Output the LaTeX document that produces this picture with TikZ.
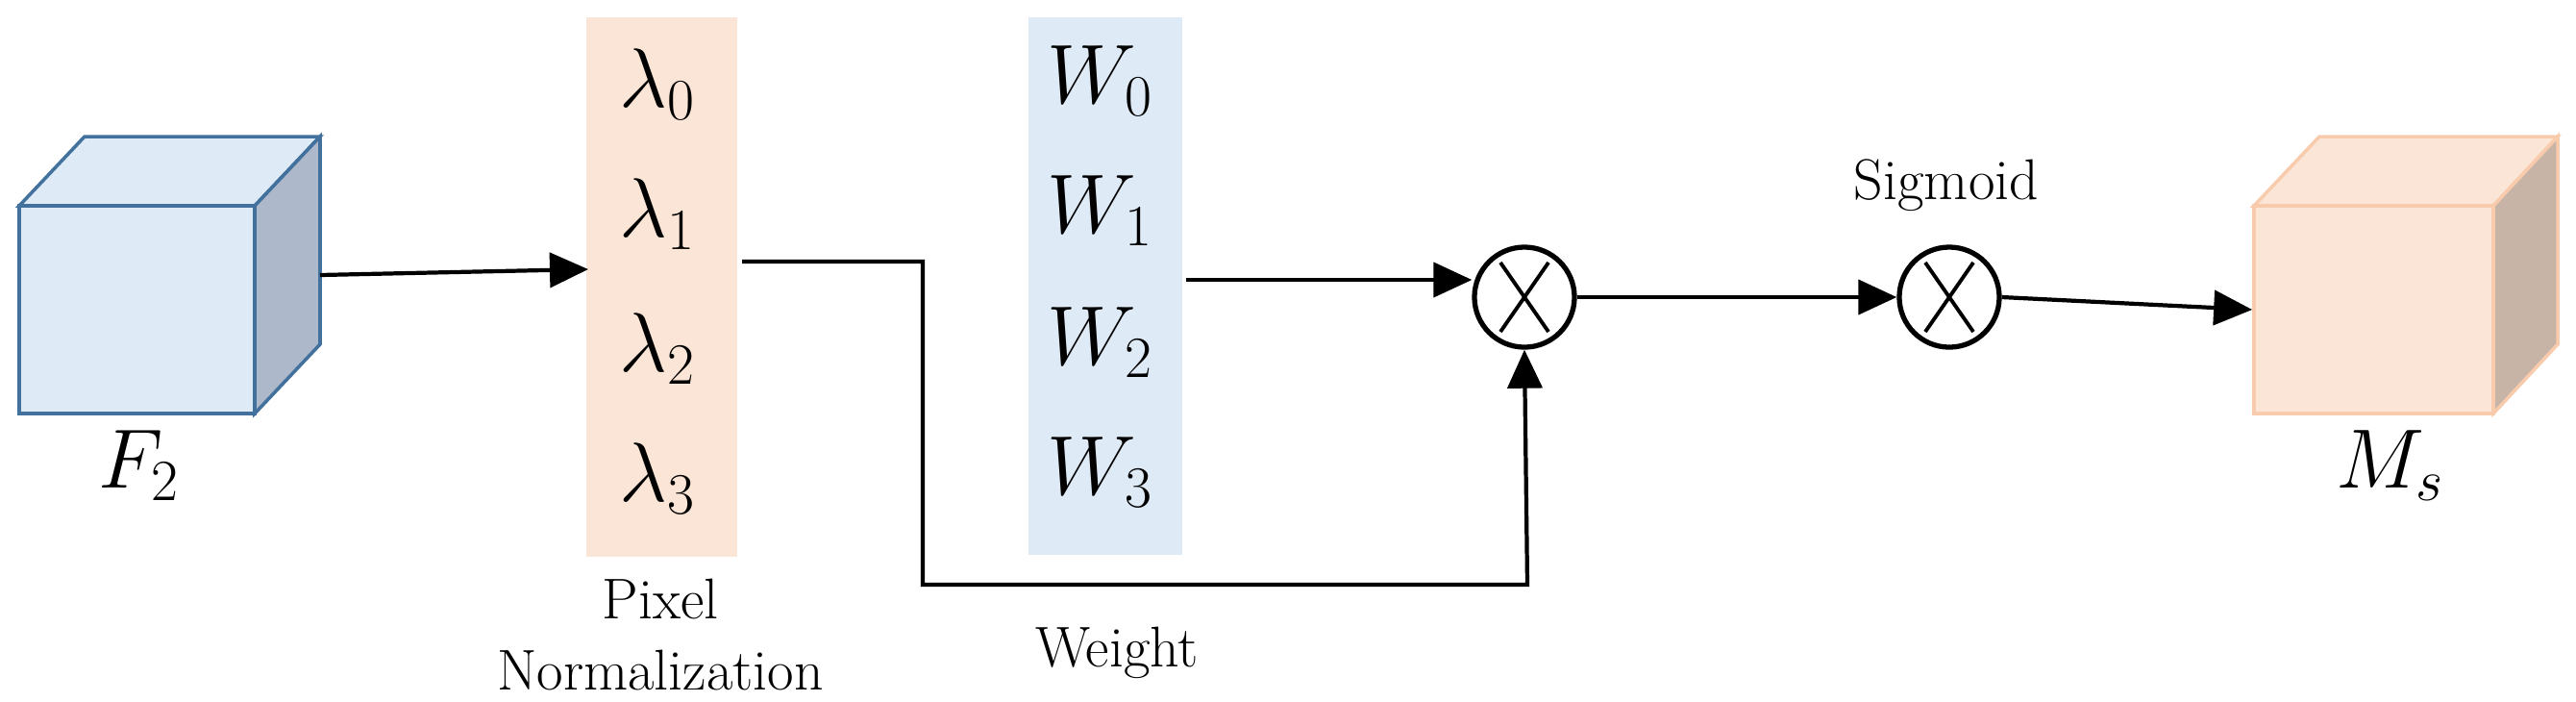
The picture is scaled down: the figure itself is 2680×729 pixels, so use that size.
\documentclass[tikz,border=0pt]{standalone}
\usetikzlibrary{arrows.meta}
\definecolor{bfill}{RGB}{222,234,246}
\definecolor{bside}{RGB}{173,185,202}
\definecolor{bedge}{RGB}{65,113,156}
\definecolor{pfill}{RGB}{251,229,214}
\definecolor{pside}{RGB}{199,180,166}
\definecolor{pedge}{RGB}{248,203,173}
\begin{document}
\begin{tikzpicture}[x=0.01cm,y=-0.01cm,
  conn/.style={line width=1.2pt,-{Triangle[length=0.4cm,width=0.36cm]}},
  sym/.style={font=\fontsize{25}{28}\selectfont},
  lbl/.style={font=\fontsize{17}{21}\selectfont},
  otimes/.style={circle,draw,line width=1.5pt,minimum size=1.04cm,inner sep=0pt,
    path picture={\draw[line width=1.1pt] (path picture bounding box.center) ++(-0.25cm,-0.36cm) -- ++(0.5cm,0.72cm)
      (path picture bounding box.center) ++(0.25cm,-0.36cm) -- ++(-0.5cm,0.72cm);}}]
\useasboundingbox (0,0) rectangle (2680,729);
% left cube
\fill[bfill,draw=bedge,line width=1pt] (20,214) -- (88,142) -- (333,142) -- (265,214) -- cycle;
\fill[bside,draw=bedge,line width=1pt] (265,214) -- (333,142) -- (333,358) -- (265,430) -- cycle;
\node[fill=bfill,draw=bedge,line width=1pt,minimum width=2.45cm,minimum height=2.16cm,inner sep=0pt] (f2) at (142.5,322) {};
\coordinate (f2out) at (333,286);
% right cube
\fill[pfill,draw=pedge,line width=1pt] (2345,214) -- (2413,142) -- (2661,142) -- (2594,214) -- cycle;
\fill[pside,draw=pedge,line width=1pt] (2594,214) -- (2661,142) -- (2661,358) -- (2594,430) -- cycle;
\node[fill=pfill,draw=pedge,line width=1pt,minimum width=2.49cm,minimum height=2.16cm,inner sep=0pt] (ms) at (2469.5,322) {};
% columns
\node[fill=pfill,minimum width=1.57cm,minimum height=5.61cm,inner sep=0pt] (pn) at (688.5,298.5) {};
\node[fill=bfill,minimum width=1.6cm,minimum height=5.59cm,inner sep=0pt] (wc) at (1150,297.5) {};
\node[sym] (l0) at (684,88) {$\lambda_0$};
\node[sym] (l1) at (684,223) {$\lambda_1$};
\node[sym] (l2) at (684,363) {$\lambda_2$};
\node[sym] (l3) at (684,498) {$\lambda_3$};
\node[sym] (w0) at (1145,84) {$W_0$};
\node[sym] (w1) at (1145,219) {$W_1$};
\node[sym] (w2) at (1145,356) {$W_2$};
\node[sym] (w3) at (1145,491) {$W_3$};
% labels
\node[sym] (f2l) at (145,484) {$F_2$};
\node[sym] (msl) at (2487,484) {$M_s$};
\node[lbl,align=center] (pnl) at (687,660) {Pixel\\Normalization};
\node[lbl] (wl) at (1162,679) {Weight};
\node[lbl] (sg) at (2025,193) {Sigmoid};
% operators
\node[otimes] (m1) at (1586,309) {};
\node[otimes] (m2) at (2028,309) {};
% connectors
\coordinate (a1) at (772,272);
\coordinate (a2) at (960,272);
\coordinate (a3) at (960,608);
\coordinate (a4) at (1589,608);
\coordinate (b1) at (1234,291);
\draw[conn] (f2out) -- (612,280);
\draw[conn] (a1) -- (a2) -- (a3) -- (a4) -- (m1.south);
\draw[conn] (b1) -- (m1.west |- b1);
\draw[conn] (m1.east) -- (m2.west);
\draw[conn] (m2.east) -- (ms.west);
\end{tikzpicture}
\end{document}
